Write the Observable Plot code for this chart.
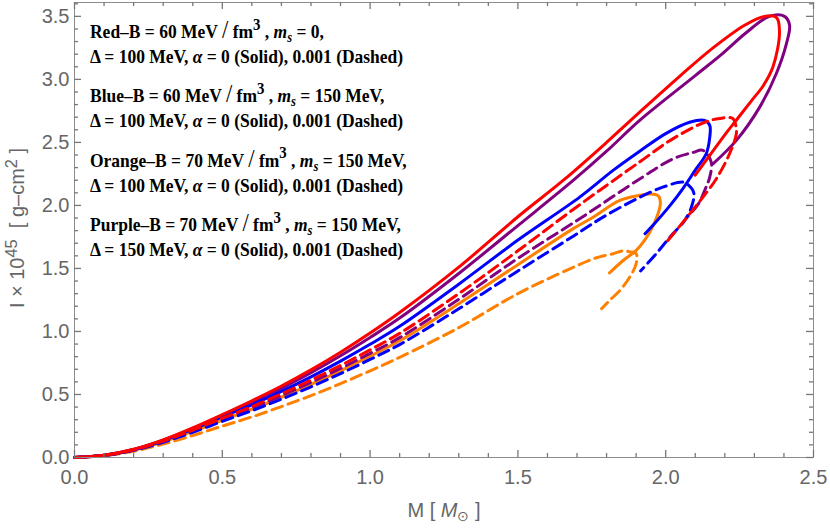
<!DOCTYPE html>
<html>
<head>
<meta charset="utf-8">
<script src="https://cdn.jsdelivr.net/npm/d3@7"></script>
<script src="https://cdn.jsdelivr.net/npm/@observablehq/plot@0.6"></script>
<style>
  body { margin: 0; background: #fff; }
  #wrap { position: relative; width: 830px; height: 528px; overflow: hidden; background: #fff; }
  #wrap svg { position: absolute; left: 0; top: 0; }
  .leg { position: absolute; left: 90px; font-family: "Liberation Serif", "Times New Roman", serif; font-weight: bold;
         font-size: 19px; line-height: 19px; white-space: nowrap; color: #000;
         transform: scaleX(0.92); transform-origin: 0 50%; }
  .leg sup { font-size: 0.85em; vertical-align: baseline; position: relative; top: -0.5em; line-height: 0; }
  .leg sub { font-size: 0.72em; vertical-align: baseline; position: relative; top: 0.3em; line-height: 0; }
  .leg .sl { font-weight: normal; font-size: 1.3em; line-height: 0; }
  .ax { position: absolute; font-family: "Liberation Sans", Arial, sans-serif; font-size: 20px; line-height: 20px;
        color: #666; white-space: nowrap; }
  .ax sup { font-size: 0.82em; vertical-align: baseline; position: relative; top: -0.45em; line-height: 0; }
  .ax sub { font-size: 0.7em; vertical-align: baseline; position: relative; top: 0.3em; line-height: 0; }
</style>
</head>
<body>
<div id="wrap"></div>
<script>
// ---- tick values ----
const xMajor = [0, 0.5, 1.0, 1.5, 2.0, 2.5];
const yMajor = [0, 0.5, 1.0, 1.5, 2.0, 2.5, 3.0, 3.5];
const xMinor = [0.1,0.2,0.3,0.4,0.6,0.7,0.8,0.9,1.1,1.2,1.3,1.4,1.6,1.7,1.8,1.9,2.1,2.2,2.3,2.4];
const yMinor = [0.1,0.2,0.3,0.4,0.6,0.7,0.8,0.9,1.1,1.2,1.3,1.4,1.6,1.7,1.8,1.9,2.1,2.2,2.3,2.4,2.6,2.7,2.8,2.9,3.1,3.2,3.3,3.4,3.6];

// ---- series: [M (M_sun), I x 10^45 (g cm^2)] ----
const redSolid = [[0,0],[0.1,0.018],[0.2,0.065],[0.3,0.14],[0.4,0.235],[0.5,0.34],[0.6,0.45],[0.7,0.567],[0.8,0.695],[0.9,0.835],[1.0,0.987],[1.1,1.15],[1.3,1.51],[1.5,1.91],[1.653,2.198],[1.8,2.5],[1.912,2.74],[2.05,3.03],[2.16,3.25],[2.267,3.43],[2.334,3.50],[2.375,3.49],[2.385,3.375],[2.363,3.10],[2.33,2.95],[2.29,2.83],[2.24,2.68],[2.2,2.56],[2.15,2.40],[2.10,2.24]];
const redDashed = [[0,0],[0.1,0.017],[0.2,0.061],[0.3,0.13],[0.4,0.217],[0.5,0.312],[0.6,0.404],[0.7,0.505],[0.8,0.614],[0.9,0.73],[1.0,0.854],[1.1,0.985],[1.3,1.30],[1.5,1.64],[1.7,1.99],[1.912,2.345],[2.025,2.53],[2.132,2.66],[2.182,2.69],[2.227,2.69],[2.237,2.635],[2.239,2.57],[2.216,2.41],[2.171,2.21],[2.126,2.066],[2.07,1.90],[2.005,1.715]];
const blueSolid = [[0,0],[0.1,0.017],[0.2,0.062],[0.3,0.133],[0.4,0.223],[0.5,0.322],[0.6,0.418],[0.7,0.524],[0.8,0.64],[0.9,0.765],[1.0,0.898],[1.1,1.041],[1.3,1.375],[1.5,1.725],[1.709,2.066],[1.822,2.278],[1.912,2.43],[2.0,2.57],[2.081,2.66],[2.132,2.675],[2.149,2.635],[2.149,2.54],[2.137,2.41],[2.10,2.28],[2.06,2.14],[2.015,2.0],[1.96,1.85],[1.93,1.775]];
const blueDashed = [[0,0],[0.1,0.016],[0.2,0.057],[0.3,0.121],[0.4,0.2],[0.5,0.287],[0.6,0.371],[0.7,0.463],[0.8,0.561],[0.9,0.666],[1.0,0.778],[1.1,0.896],[1.3,1.18],[1.5,1.48],[1.69,1.76],[1.788,1.907],[1.90,2.05],[1.99,2.145],[2.058,2.185],[2.075,2.165],[2.095,2.10],[2.087,1.987],[2.064,1.88],[2.014,1.748],[1.968,1.617],[1.915,1.48]];
const orangeSolid = [[0,0],[0.1,0.016],[0.2,0.058],[0.3,0.124],[0.4,0.206],[0.5,0.296],[0.6,0.383],[0.7,0.478],[0.8,0.58],[0.9,0.688],[1.0,0.804],[1.1,0.926],[1.3,1.22],[1.5,1.53],[1.69,1.82],[1.75,1.9],[1.845,2.04],[1.912,2.08],[1.95,2.09],[1.975,2.075],[1.982,2.026],[1.974,1.934],[1.946,1.788],[1.90,1.643],[1.856,1.563],[1.81,1.465]];
const orangeDashed = [[0,0],[0.1,0.014],[0.2,0.05],[0.3,0.106],[0.4,0.175],[0.5,0.249],[0.6,0.322],[0.7,0.404],[0.8,0.491],[0.9,0.586],[1.0,0.688],[1.1,0.795],[1.3,1.03],[1.5,1.30],[1.676,1.497],[1.766,1.585],[1.822,1.617],[1.856,1.64],[1.878,1.632],[1.90,1.617],[1.90,1.537],[1.878,1.43],[1.845,1.325],[1.81,1.246],[1.783,1.18]];
const purpleSolid = [[0,0],[0.1,0.018],[0.2,0.064],[0.3,0.138],[0.4,0.231],[0.5,0.335],[0.6,0.437],[0.7,0.549],[0.8,0.673],[0.9,0.807],[1.0,0.952],[1.1,1.106],[1.3,1.46],[1.5,1.84],[1.687,2.198],[1.8,2.43],[1.912,2.675],[2.1,3.03],[2.19,3.2],[2.272,3.37],[2.351,3.50],[2.402,3.50],[2.419,3.43],[2.408,3.28],[2.374,3.045],[2.318,2.78],[2.239,2.516],[2.16,2.33]];
const purpleDashed = [[0,0],[0.1,0.017],[0.2,0.06],[0.3,0.127],[0.4,0.212],[0.5,0.305],[0.6,0.394],[0.7,0.491],[0.8,0.596],[0.9,0.707],[1.0,0.826],[1.1,0.951],[1.3,1.255],[1.5,1.58],[1.709,1.894],[1.912,2.21],[2.025,2.37],[2.092,2.42],[2.126,2.437],[2.154,2.344],[2.149,2.225],[2.132,2.12],[2.11,2.01],[2.07,1.90]];

// ---- legend text ----
const legendBlocks = [
  ["Red–B = 60 MeV <span class='sl'>/</span> fm<sup>3</sup> , <i>m<sub>s</sub></i> = 0,",
   "Δ = 100 MeV, <i>α</i> = 0 (Solid), 0.001 (Dashed)"],
  ["Blue–B = 60 MeV <span class='sl'>/</span> fm<sup>3</sup> , <i>m<sub>s</sub></i> = 150 MeV,",
   "Δ = 100 MeV, <i>α</i> = 0 (Solid), 0.001 (Dashed)"],
  ["Orange–B = 70 MeV <span class='sl'>/</span> fm<sup>3</sup> , <i>m<sub>s</sub></i> = 150 MeV,",
   "Δ = 100 MeV, <i>α</i> = 0 (Solid), 0.001 (Dashed)"],
  ["Purple–B = 70 MeV <span class='sl'>/</span> fm<sup>3</sup> , <i>m<sub>s</sub></i> = 150 MeV,",
   "Δ = 150 MeV, <i>α</i> = 0 (Solid), 0.001 (Dashed)"]
];

// ---- styling ----
const RED = "#ff0000", BLUE = "#0000ff", ORANGE = "#ff8000", PURPLE = "#800080";
const series = [
  {pts: orangeDashed, color: ORANGE, dashed: true},
  {pts: orangeSolid, color: ORANGE, dashed: false},
  {pts: purpleDashed, color: PURPLE, dashed: true},
  {pts: purpleSolid, color: PURPLE, dashed: false},
  {pts: blueDashed, color: BLUE, dashed: true},
  {pts: blueSolid, color: BLUE, dashed: false},
  {pts: redDashed, color: RED, dashed: true},
  {pts: redSolid, color: RED, dashed: false}
];

const W = 830, H = 528, ML = 74, MR = 17, MT = 2, MB = 71;
const frameW = W - ML - MR, frameH = H - MT - MB;
const frameColor = "#8c8c8c";
const tickColor = "#777";
const labelColor = "#666";
const fmt = d3.format(".1f");

// inward frame ticks as short rules (full-span rules shortened by insets)
function frameTicks(values, side, len) {
  const opts = {stroke: tickColor, strokeWidth: 1.3};
  if (side === "bottom") return Plot.ruleX(values, {x: d => d, insetTop: frameH - len, ...opts});
  if (side === "top") return Plot.ruleX(values, {x: d => d, insetBottom: frameH - len, ...opts});
  if (side === "left") return Plot.ruleY(values, {y: d => d, insetRight: frameW - len, ...opts});
  return Plot.ruleY(values, {y: d => d, insetLeft: frameW - len, ...opts});
}

const plot = Plot.plot({
  width: W,
  height: H,
  marginLeft: ML,
  marginRight: MR,
  marginTop: MT,
  marginBottom: MB,
  style: {fontFamily: "Liberation Sans, Arial, sans-serif", fontSize: "20px", background: "transparent"},
  x: {domain: [0, 2.5], label: null},
  y: {domain: [0, 3.61], label: null},
  marks: [
    ...series.map(s => Plot.line(s.pts, {
      x: d => d[0], y: d => d[1],
      stroke: s.color, strokeWidth: 3,
      strokeDasharray: s.dashed ? "11,6" : null,
      curve: "catmull-rom", strokeLinejoin: "round"
    })),
    Plot.frame({stroke: frameColor, strokeWidth: 1}),
    frameTicks(xMajor, "bottom", 7), frameTicks(xMinor, "bottom", 4),
    frameTicks(xMajor, "top", 7), frameTicks(xMinor, "top", 4),
    frameTicks(yMajor, "left", 7), frameTicks(yMinor, "left", 4),
    frameTicks(yMajor, "right", 7), frameTicks(yMinor, "right", 4),
    Plot.axisX(xMajor, {anchor: "bottom", tickSize: 0, tickPadding: 12, tickFormat: fmt, fontSize: 20, fill: labelColor, label: null}),
    Plot.axisY(yMajor, {anchor: "left", tickSize: 0, tickPadding: 5, tickFormat: fmt, fontSize: 20, fill: labelColor, label: null})
  ]
});

const wrap = document.getElementById("wrap");
wrap.appendChild(plot);

// legend
legendBlocks.forEach((block, i) => {
  block.forEach((html, j) => {
    const capCenter = 31.7 + i * 64.4 + j * 25;
    const div = document.createElement("div");
    div.className = "leg";
    div.style.top = (capCenter - 10) + "px";
    div.innerHTML = html;
    wrap.appendChild(div);
  });
});

// axis titles
const xl = document.createElement("div");
xl.className = "ax";
xl.style.left = "444px";
xl.style.top = "500px";
xl.style.transform = "translateX(-50%)";
xl.innerHTML = "M [ <i>M</i><sub>⊙</sub> ]";
wrap.appendChild(xl);

const yl = document.createElement("div");
yl.className = "ax";
yl.style.left = "17px";
yl.style.top = "228px";
yl.style.transform = "translate(-50%,-50%) rotate(-90deg)";
yl.innerHTML = "I × 10<sup>45</sup>&nbsp; [ g–cm<sup>2</sup> ]";
wrap.appendChild(yl);
</script>
</body>
</html>
